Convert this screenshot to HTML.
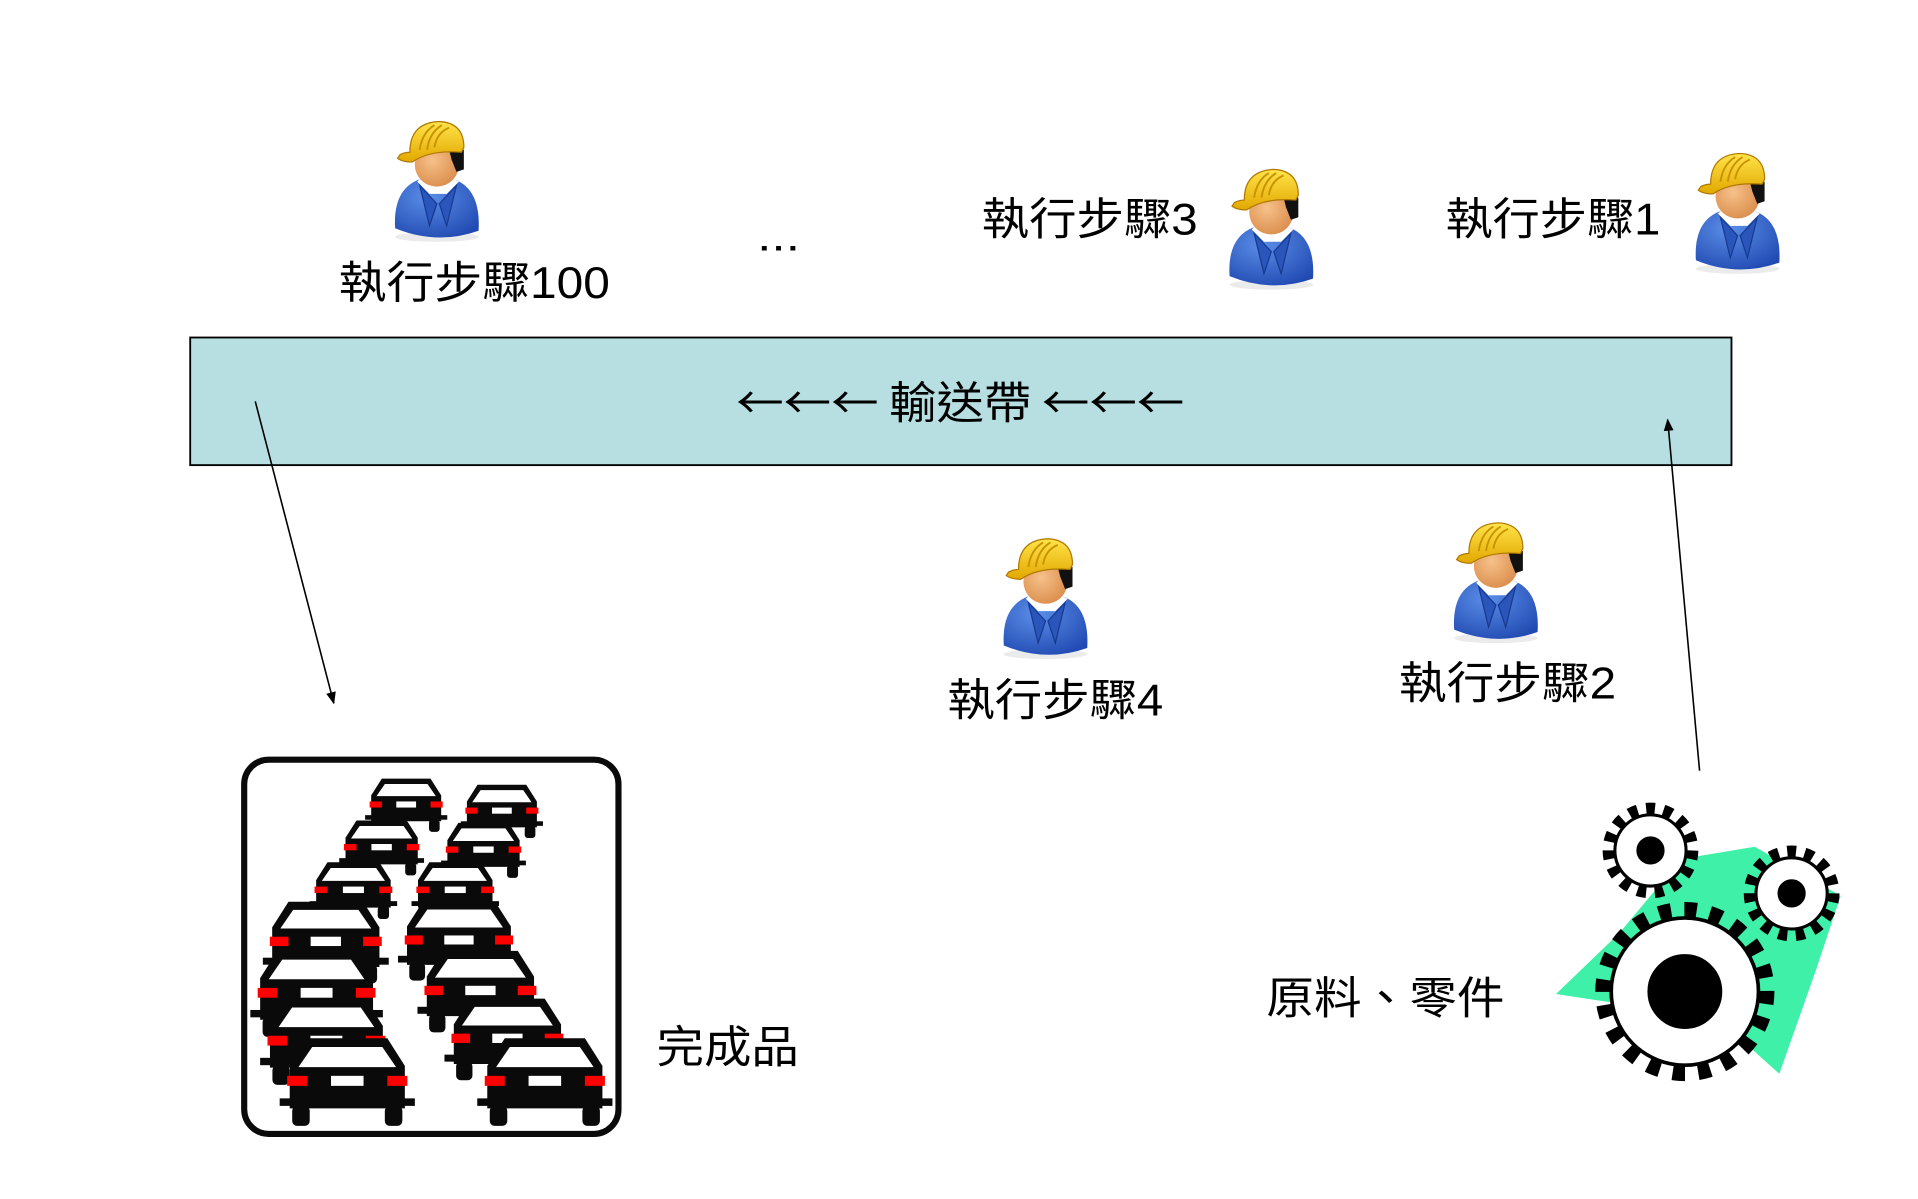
<!DOCTYPE html>
<html><head><meta charset="utf-8"><style>html,body{margin:0;padding:0;background:#fff}svg{display:block}text{font-family:"Liberation Sans","Noto Sans CJK TC",sans-serif;fill:#000}</style></head>
<body>
<svg width="1918" height="1199" viewBox="0 0 1563 977" xmlns="http://www.w3.org/2000/svg">
<defs>
<radialGradient id="bl" cx="0.4" cy="0.3" r="0.8"><stop offset="0" stop-color="#5b8ee8"/><stop offset="1" stop-color="#1f48b0"/></radialGradient>
<radialGradient id="fc" cx="0.4" cy="0.4" r="0.7"><stop offset="0" stop-color="#f6c18a"/><stop offset="1" stop-color="#d98a48"/></radialGradient>
<linearGradient id="ht" x1="0" y1="0" x2="0" y2="1"><stop offset="0" stop-color="#ffe44a"/><stop offset="1" stop-color="#e2a800"/></linearGradient>
<g id="w">
<ellipse cx="36" cy="97" rx="34" ry="4" fill="#ddd" opacity="0.6"/>
<path d="M2,90 Q0,58 22,50 L50,50 Q72,58 70,92 Q36,104 2,90Z" fill="url(#bl)"/>
<path d="M20,52 L30,62 L44,62 L54,52 L50,50 L22,50Z" fill="#fff"/>
<path d="M22,55 L30,88 L36,70Z M52,55 L44,88 L38,70Z" fill="#2a55bb" stroke="#173a90" stroke-width="1"/>
<circle cx="36" cy="38" r="18" fill="url(#fc)"/>
<path d="M46,26 L58,26 L58,42 L52,44 L48,34Z" fill="#111"/>
<path d="M6,30 Q10,28 14,28 Q14,4 38,3 Q58,4 58,24 L56,28 Q30,26 16,36 Q8,36 4,33Z" fill="url(#ht)" stroke="#b07800" stroke-width="1"/>
<path d="M22,26 Q24,12 34,6 M28,26 Q30,12 40,6 M34,24 Q36,12 46,8" stroke="#c99000" stroke-width="1.5" fill="none"/>
</g>
<g id="car">
<path d="M18,4 L82,4 L96,26 L96,60 L4,60 L4,26Z" fill="#0a0a0a"/>
<path d="M22,11 L78,11 L89,27 L11,27Z" fill="#fff"/>
<rect x="2" y="34" width="16" height="8" fill="#f00"/>
<rect x="82" y="34" width="16" height="8" fill="#f00"/>
<rect x="37" y="34" width="26" height="8" fill="#fff"/>
<rect x="-4" y="52" width="108" height="6" fill="#0a0a0a"/>
<rect x="6" y="58" width="14" height="16" rx="4" fill="#0a0a0a"/>
<rect x="80" y="58" width="14" height="16" rx="4" fill="#0a0a0a"/>
</g>
<marker id="ah" markerWidth="10" markerHeight="10" refX="9" refY="5" orient="auto" markerUnits="userSpaceOnUse"><path d="M0,1 L10,5 L0,9Z" fill="#000"/></marker>
</defs>

<rect x="155" y="275" width="1256" height="104" fill="#b7dfe2" stroke="#000" stroke-width="1.5"/>
<text x="600" y="341" font-size="36" textLength="365" lengthAdjust="spacingAndGlyphs" style="font-family:'Noto Sans CJK TC',sans-serif">←←← 輸送帶 ←←←</text>
<line x1="208" y1="327" x2="272" y2="573" stroke="#000" stroke-width="1.3" marker-end="url(#ah)"/>
<line x1="1385" y1="628" x2="1359" y2="342" stroke="#000" stroke-width="1.3" marker-end="url(#ah)"/>

<use href="#w" x="320" y="96"/>
<use href="#w" x="1000" y="135"/>
<use href="#w" x="1380" y="122"/>
<use href="#w" x="816" y="436"/>
<use href="#w" x="1183" y="423"/>

<text x="276" y="243" font-size="36" textLength="221" lengthAdjust="spacingAndGlyphs">執行步驟100</text>
<text x="617" y="204" font-size="34" textLength="35" lengthAdjust="spacingAndGlyphs">...</text>
<text x="800" y="191" font-size="36" textLength="176" lengthAdjust="spacingAndGlyphs">執行步驟3</text>
<text x="1178" y="191" font-size="36" textLength="175" lengthAdjust="spacingAndGlyphs">執行步驟1</text>
<text x="772" y="583" font-size="36" textLength="176" lengthAdjust="spacingAndGlyphs">執行步驟4</text>
<text x="1140" y="569" font-size="36" textLength="177" lengthAdjust="spacingAndGlyphs">執行步驟2</text>
<text x="535" y="866" font-size="36" textLength="116" lengthAdjust="spacingAndGlyphs">完成品</text>
<text x="1032" y="826" font-size="36" textLength="194" lengthAdjust="spacingAndGlyphs">原料、零件</text>

<rect x="199" y="619" width="305" height="305" rx="20" fill="#fff" stroke="#0a0a0a" stroke-width="5"/>
<use href="#car" transform="translate(300,632) scale(0.62)"/>
<use href="#car" transform="translate(378,637) scale(0.62)"/>
<use href="#car" transform="translate(279,666) scale(0.64)"/>
<use href="#car" transform="translate(362,668) scale(0.64)"/>
<use href="#car" transform="translate(255,700) scale(0.66)"/>
<use href="#car" transform="translate(338,700) scale(0.66)"/>
<use href="#car" transform="translate(218,731) scale(0.95)"/>
<use href="#car" transform="translate(328,731) scale(0.92)"/>
<use href="#car" transform="translate(208,771) scale(1.0)"/>
<use href="#car" transform="translate(344,771) scale(0.95)"/>
<use href="#car" transform="translate(216,810) scale(1.0)"/>
<use href="#car" transform="translate(366,810) scale(0.95)"/>
<use href="#car" transform="translate(232,842) scale(1.02)"/>
<use href="#car" transform="translate(393,842) scale(1.02)"/>

<path d="M1268,810 L1320,760 L1370,700 L1430,690 L1500,730 L1480,790 L1450,875 L1400,830Z" fill="#3ef0a8"/>
<g stroke="#000">
<circle cx="1345" cy="693" r="33" fill="none" stroke-width="12" stroke-dasharray="7 6.8"/>
<circle cx="1345" cy="693" r="29" fill="#fff" stroke-width="2.5"/>
<circle cx="1345" cy="693" r="11" fill="#000"/>
<circle cx="1460" cy="728" r="33" fill="none" stroke-width="12" stroke-dasharray="7 6.8"/>
<circle cx="1460" cy="728" r="29" fill="#fff" stroke-width="2.5"/>
<circle cx="1460" cy="728" r="11" fill="#000"/>
<circle cx="1373" cy="808" r="66" fill="none" stroke-width="14" stroke-dasharray="10 10.7"/>
<circle cx="1373" cy="808" r="60" fill="#fff" stroke-width="3"/>
<circle cx="1373" cy="808" r="30" fill="#000"/>
</g>
</svg>
</body></html>
